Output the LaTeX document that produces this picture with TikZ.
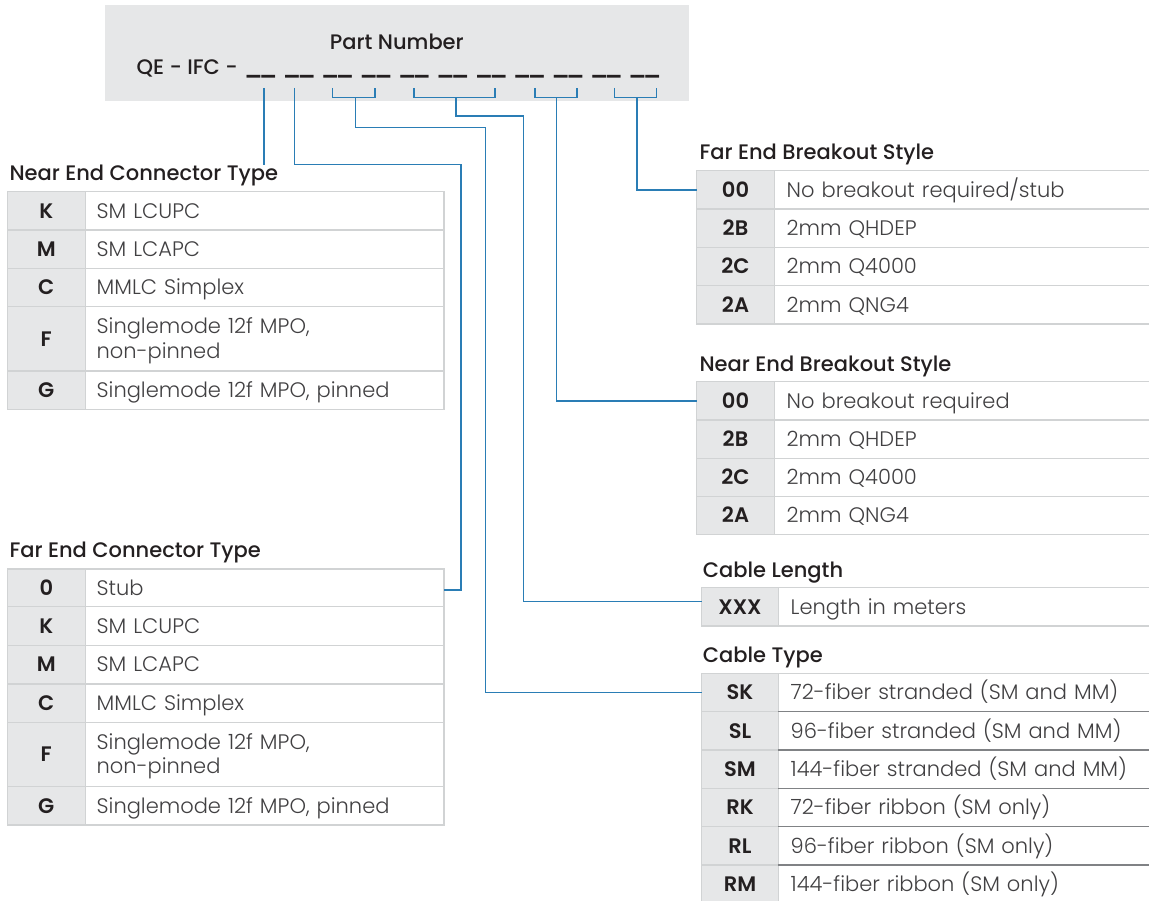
\documentclass[tikz,border=0pt]{standalone}
\usepackage{fontspec}
\setmainfont{Poppins}[BoldFont={Poppins Medium}]
\newfontfamily\mylightfam{Poppins Light}
\newfontfamily\mysemifam{Poppins SemiBold}
\usetikzlibrary{calc}
\definecolor{hdrgray}{HTML}{E6E7E8}
\definecolor{codegray}{HTML}{E6E7E8}
\definecolor{bordergray}{HTML}{D1D3D4}
\definecolor{sepdark}{HTML}{808285}
\definecolor{conblue}{HTML}{2A7DB5}
\definecolor{txtdark}{HTML}{231F20}
\definecolor{txtdesc}{HTML}{414042}
\newcommand\mycodefont{\fontsize{21}{24.3}\selectfont\mysemifam}
\newcommand\mydescfont{\fontsize{21}{24.3}\selectfont\mylightfam}
\newcommand\mytitlefont{\fontsize{21}{24.3}\selectfont\bfseries}
\newcommand\myblank{\scalebox{1.12}[1]{\_\kern-3.5pt\_}}
% #1 extra desc opts, #2 name, #3 kind (L/R/C), #4 x, #5 y top, #6 height, #7 code, #8 desc
\newcommand\trow[8][]{%
  \node[#3code, minimum height=#6pt] (#2c) at (#4,#5) {#7};
  \node[#3desc, minimum height=#6pt, #1] (#2d) at (#2c.north east) {#8};}
\tikzset{
  cell/.style={draw=bordergray, line width=1.3pt, outer sep=0pt, anchor=north west, inner ysep=0pt},
  anycode/.style={cell, fill=codegray, inner xsep=0pt, font=\mycodefont, text=txtdark, text height=14.6pt, text depth=0pt},
  anydesc/.style={cell, fill=white, align=left, font=\mydescfont, text=txtdesc, text height=14.6pt, text depth=0pt},
  Lcode/.style={anycode, minimum width=78pt},
  Ldesc/.style={anydesc, inner xsep=11.4pt, text width=335.9pt},
  Rcode/.style={anycode, minimum width=77.6pt},
  Rdesc/.style={anydesc, inner xsep=12.4pt, text width=360pt},
  Ccode/.style={anycode, minimum width=76.6pt},
  Cdesc/.style={anydesc, inner xsep=12.4pt, text width=357pt},
  tabtitle/.style={anchor=base west, inner sep=0pt, font=\mytitlefont, text=txtdark},
  conn/.style={draw=conblue, line width=1.5pt},
  blank/.style={anchor=base, inner sep=0pt, font=\mycodefont, text=txtdark},
}
\begin{document}
\begin{tikzpicture}[x=1pt, y=-1pt]
\useasboundingbox (0,0) rectangle (1149,901);
\clip (0,0) rectangle (1149,901);

% header
\node[fill=hdrgray, minimum width=584pt, minimum height=96pt, anchor=north west, inner sep=0pt, outer sep=0pt] (hdr) at (105,5) {};
\node[anchor=base, inner sep=0pt, font=\mytitlefont, text=txtdark] (pn) at (396.8,49.3) {Part Number};
\node[anchor=base west, inner sep=0pt, font=\mytitlefont, text=txtdark] (qe) at (136.4,75) {QE - IFC -};
\foreach \i in {1,...,11} {
  \node[blank] (u\i) at ({260.8+38.4*(\i-1)},75) {\myblank};
}

% Near End Connector Type
\node[tabtitle] (nect) at (9.3,180.7) {Near End Connector Type};
\trow{NE1}{L}{7.3}{191.7}{38.3}{K}{SM LCUPC}
\trow{NE2}{L}{7.3}{230}{38.3}{M}{SM LCAPC}
\trow{NE3}{L}{7.3}{268.3}{38.4}{C}{MMLC Simplex}
\trow[text depth=24.3pt]{NE4}{L}{7.3}{306.7}{64.3}{F}{Singlemode 12f MPO,\\non-pinned}
\trow{NE5}{L}{7.3}{371}{38.3}{G}{Singlemode 12f MPO, pinned}

% Far End Connector Type
\node[tabtitle] (fect) at (9.3,557) {Far End Connector Type};
\trow{FE1}{L}{7.3}{569}{37.7}{0}{Stub}
\trow{FE2}{L}{7.3}{606.7}{38.6}{K}{SM LCUPC}
\trow{FE3}{L}{7.3}{645.3}{38.7}{M}{SM LCAPC}
\trow{FE4}{L}{7.3}{684}{38.3}{C}{MMLC Simplex}
\trow[text depth=24.3pt]{FE5}{L}{7.3}{722.3}{64.4}{F}{Singlemode 12f MPO,\\non-pinned}
\trow{FE6}{L}{7.3}{786.7}{38.3}{G}{Singlemode 12f MPO, pinned}

% Far End Breakout Style
\node[tabtitle] (fbst) at (699.3,160) {Far End Breakout Style};
\trow{FB1}{R}{696.7}{170.7}{38.3}{00}{No breakout required/stub}
\trow{FB2}{R}{696.7}{209}{38.3}{2B}{2mm QHDEP}
\trow{FB3}{R}{696.7}{247.3}{38.4}{2C}{2mm Q4000}
\trow{FB4}{R}{696.7}{285.7}{38.3}{2A}{2mm QNG4}

% Near End Breakout Style
\node[tabtitle] (nbst) at (699.3,371.7) {Near End Breakout Style};
\trow{NB1}{R}{696.7}{381.7}{38.3}{00}{No breakout required}
\trow{NB2}{R}{696.7}{420}{38.3}{2B}{2mm QHDEP}
\trow{NB3}{R}{696.7}{458.3}{38.4}{2C}{2mm Q4000}
\trow{NB4}{R}{696.7}{496.7}{37.6}{2A}{2mm QNG4}

% Cable Length
\node[tabtitle] (clt) at (702.7,577.3) {Cable Length};
\trow{CL1}{C}{701.7}{587.7}{38.3}{XXX}{Length in meters}

% Cable Type
\node[tabtitle] (ctt) at (702.7,662.3) {Cable Type};
\trow{CT1}{C}{701.7}{673.3}{38.4}{SK}{72-fiber stranded (SM and MM)}
\trow{CT2}{C}{701.7}{711.7}{38.3}{SL}{96-fiber stranded (SM and MM)}
\trow{CT3}{C}{701.7}{750}{38.3}{SM}{144-fiber stranded (SM and MM)}
\trow{CT4}{C}{701.7}{788.3}{38.4}{RK}{72-fiber ribbon (SM only)}
\trow{CT5}{C}{701.7}{826.7}{38.3}{RL}{96-fiber ribbon (SM only)}
\trow{CT6}{C}{701.7}{865}{38.4}{RM}{144-fiber ribbon (SM only)}
\foreach \r in {2,...,6} {
  \draw[draw=sepdark, line width=1.3pt] (CT\r d.north west) -- (CT\r d.north east);
}

% connectors
\coordinate (k1) at (263.8,88);
\coordinate (k2) at (294.4,88);
\coordinate (b3l) at (332.7,88);
\coordinate (b3r) at (374.8,88);
\coordinate (b3m) at (355.3,97.3);
\coordinate (b4l) at (413.8,88);
\coordinate (b4r) at (495,88);
\coordinate (b4m) at (455.9,97.3);
\coordinate (b5l) at (534.8,88);
\coordinate (b5r) at (576.8,88);
\coordinate (b5m) at (556.6,97.3);
\coordinate (b6l) at (614.3,88);
\coordinate (b6r) at (656.4,88);
\coordinate (b6m) at (637,97.3);
\coordinate (r2) at (460.9,164.3);
\coordinate (r3) at (485.4,127.7);
\coordinate (r4) at (523.6,116);

\draw[conn] (k1) -- (k1 |- nect.north);
\draw[conn] (k2) |- (r2) |- ([yshift=-2pt]FE1d.east);
\foreach \b in {3,4,5,6} {
  \draw[conn] (b\b l) -- (b\b l |- b\b m) -- (b\b r |- b\b m) -- (b\b r);
}
\draw[conn] (b3m) |- (r3) |- (CT1c.west);
\draw[conn] (b4m) |- (r4) |- ([yshift=5.5pt]CL1c.west);
\draw[conn] (b5m) |- (NB1c.west);
\draw[conn] (b6m) |- (FB1c.west);
\end{tikzpicture}
\end{document}
